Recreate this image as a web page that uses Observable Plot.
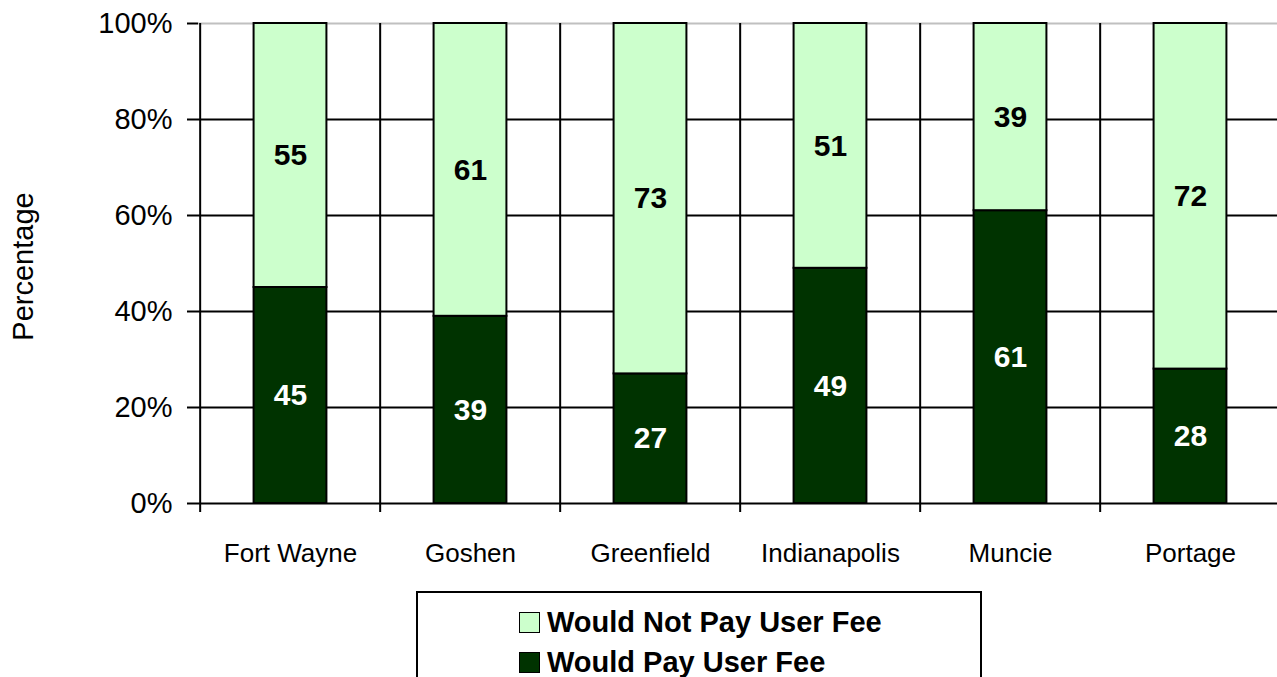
<!DOCTYPE html>
<html>
<head>
<meta charset="utf-8">
<script src="https://cdn.jsdelivr.net/npm/d3@7"></script>
<script src="https://cdn.jsdelivr.net/npm/@observablehq/plot@0.6"></script>
<style>
  html, body { margin: 0; padding: 0; background: white; overflow: hidden; width: 1277px; height: 677px; }
  #wrap { position: relative; width: 1277px; height: 677px; font-family: "Liberation Sans", Arial, sans-serif; }
  #legend { position: absolute; left: 416px; top: 591px; width: 566px; height: 100px; border: 2px solid #000; box-sizing: border-box; background: white; }
  .lrow { position: absolute; left: 101px; font-weight: bold; font-size: 29px; line-height: 32px; white-space: nowrap; display: flex; align-items: center; color: #000; }
  .lsw { width: 19px; height: 19px; border: 1.5px solid #000; margin-right: 7px; box-sizing: content-box; }
</style>
</head>
<body>
<div id="wrap"></div>
<script>
const cities = ["Fort Wayne", "Goshen", "Greenfield", "Indianapolis", "Muncie", "Portage"];
const wouldPay = [45, 39, 27, 49, 61, 28];
const wouldNotPay = [55, 61, 73, 51, 39, 72];
const seriesNames = ["Would Pay User Fee", "Would Not Pay User Fee"];
const seriesColors = ["#003300", "#CCFFCC"];
const yTicks = [0, 20, 40, 60, 80, 100];
const yTickLabels = ["0%", "20%", "40%", "60%", "80%", "100%"];
const legendOrder = ["Would Not Pay User Fee", "Would Pay User Fee"];

const rows = cities.flatMap((c, i) => [
  {city: c, series: seriesNames[0], value: wouldPay[i]},
  {city: c, series: seriesNames[1], value: wouldNotPay[i]}
]);

const xRange = [198, 1282];
const bw = (xRange[1] - xRange[0]) / cities.length;
const barW = 73.5;
const inset = (bw - barW) / 2;

const chart = Plot.plot({
  width: 1277,
  height: 580,
  marginTop: 23,
  marginBottom: 77,
  marginLeft: 198,
  marginRight: 0,
  style: {fontFamily: "'Liberation Sans', Arial, sans-serif", background: "white", color: "black", overflow: "hidden"},
  x: {domain: cities, range: xRange, padding: 0, axis: null},
  y: {domain: [0, 100], axis: null},
  color: {domain: seriesNames, range: seriesColors},
  marks: [
    Plot.ruleY(yTicks.filter(t => t < 100), {stroke: "black", strokeWidth: 2}),
    Plot.ruleY([100], {stroke: "#c0c0c0", strokeWidth: 2}),
    Plot.ruleX(cities, {x: d => d, y1: 100, y2: 0, dx: -bw / 2, insetBottom: -9, stroke: "black", strokeWidth: 2}),
    Plot.barY(rows, {x: "city", y: "value", z: "series", fill: "series", stroke: "black", strokeWidth: 2, insetLeft: inset, insetRight: inset}),
    Plot.text(rows, Plot.stackY({
      x: "city", y: "value", z: "series",
      text: d => String(d.value),
      fill: d => d.series === seriesNames[0] ? "white" : "black",
      fontWeight: "bold", fontSize: 30
    })),
    Plot.axisY({ticks: yTicks, tickFormat: d => yTickLabels[yTicks.indexOf(d)], tickSize: 11, tickPadding: 15, fontSize: 29, strokeWidth: 2, stroke: "black", label: null}),
    Plot.axisX({tickSize: 0, tickPadding: 40, fontSize: 26, label: null}),
    Plot.text(["Percentage"], {frameAnchor: "left", dx: -175, dy: 3, rotate: -90, textAnchor: "middle", fontSize: 29, fill: "black"})
  ]
});

const wrap = document.getElementById("wrap");
wrap.appendChild(chart);

const legend = document.createElement("div");
legend.id = "legend";
legendOrder.forEach((name, i) => {
  const row = document.createElement("div");
  row.className = "lrow";
  row.style.top = (13 + i * 40) + "px";
  const sw = document.createElement("span");
  sw.className = "lsw";
  sw.style.background = seriesColors[seriesNames.indexOf(name)];
  const t = document.createElement("span");
  t.textContent = name;
  row.appendChild(sw);
  row.appendChild(t);
  legend.appendChild(row);
});
wrap.appendChild(legend);
</script>
</body>
</html>
